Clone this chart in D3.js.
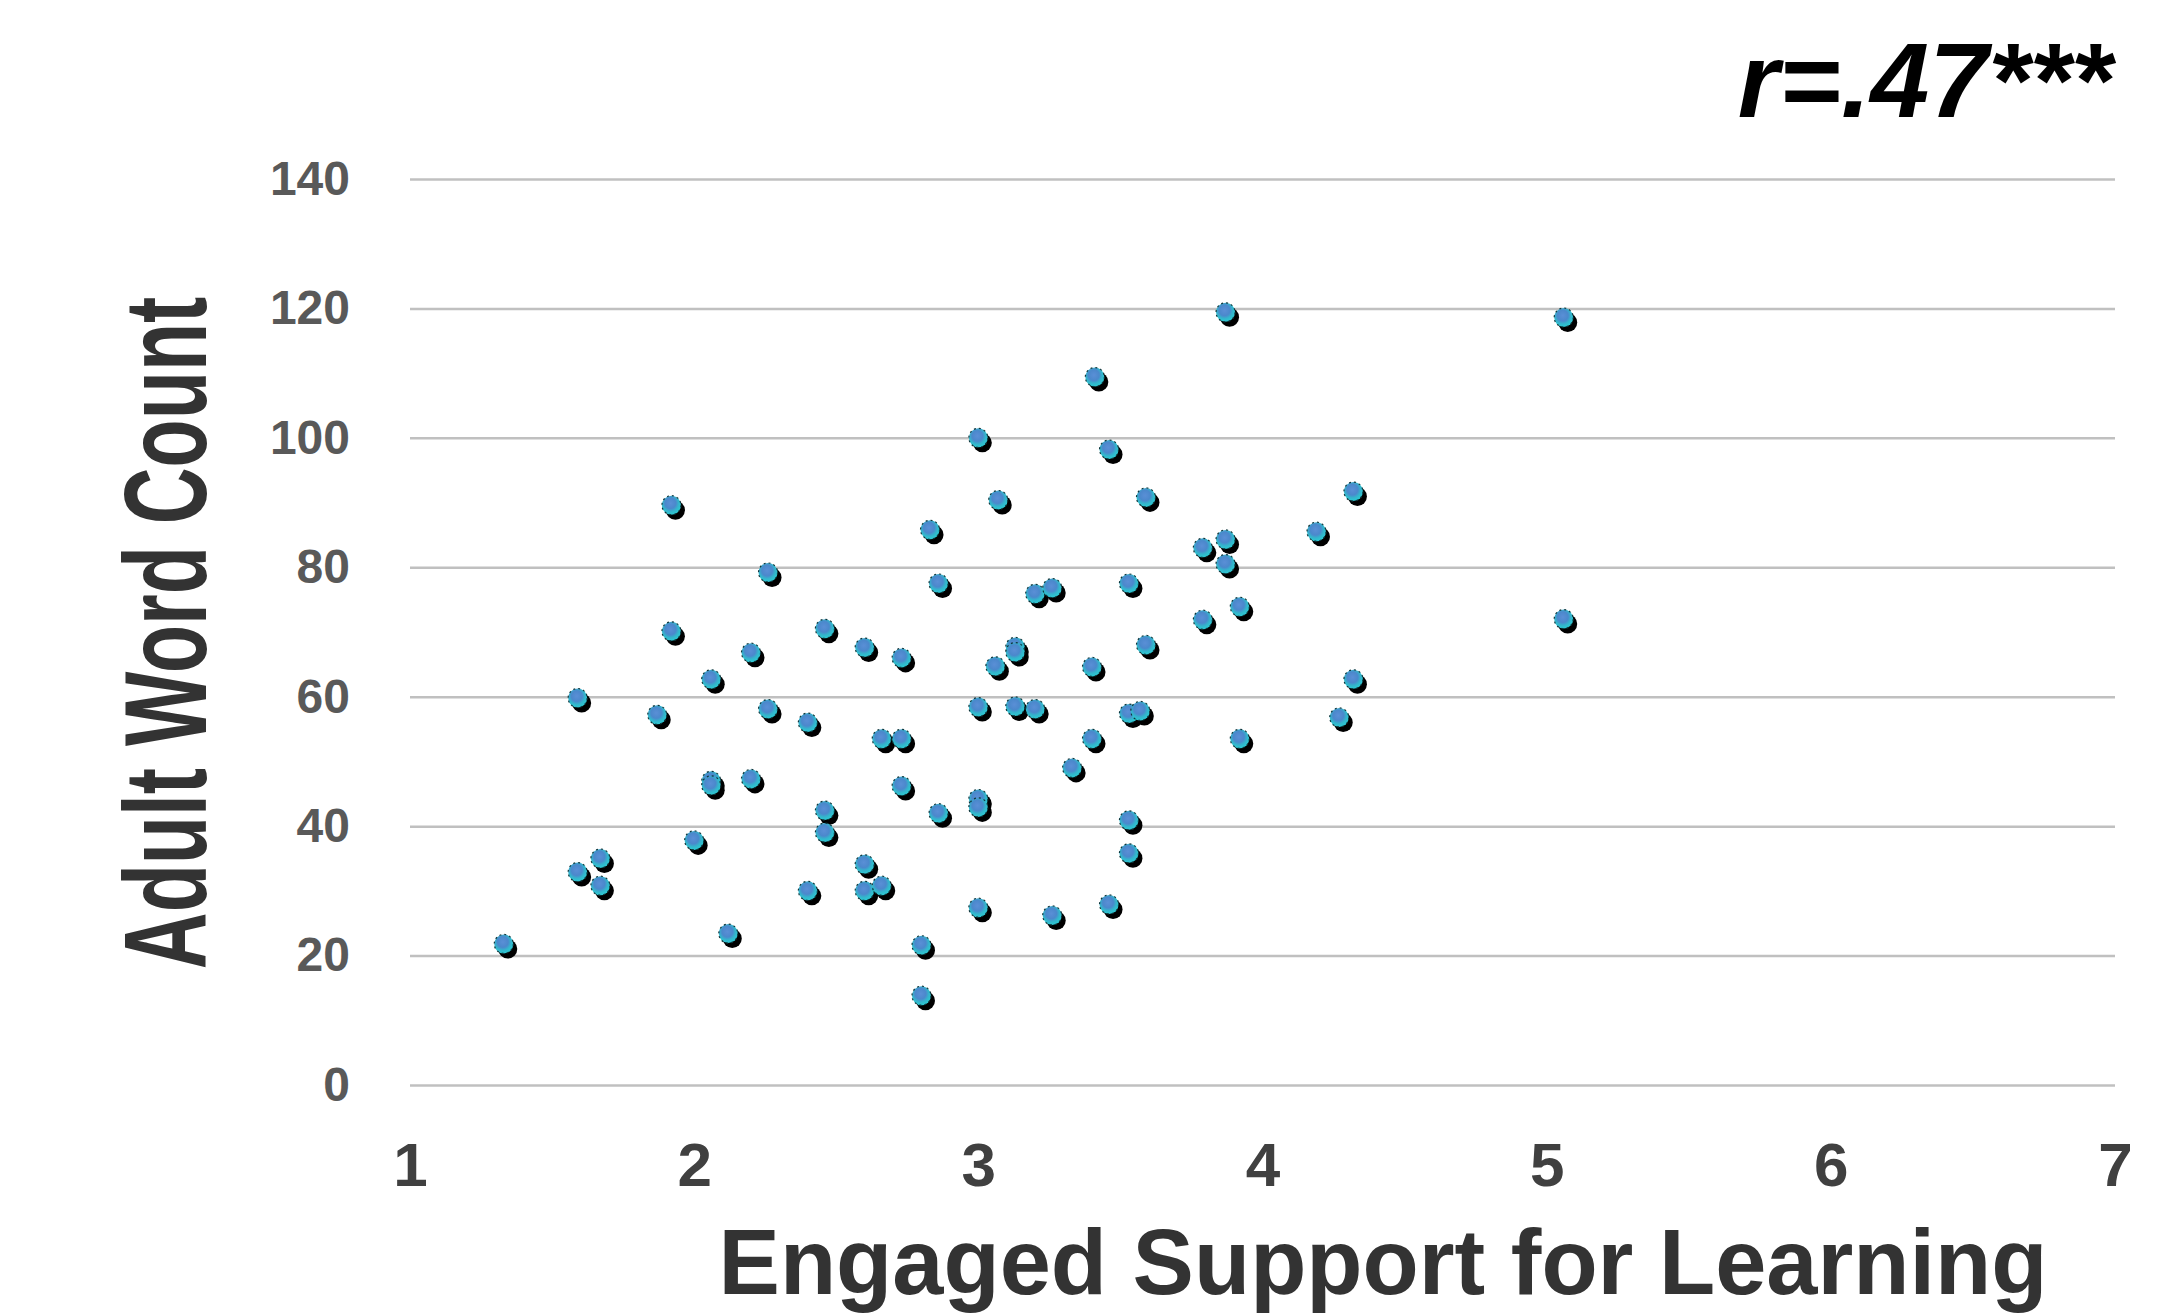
<!DOCTYPE html>
<html>
<head>
<meta charset="utf-8">
<script src="https://cdn.jsdelivr.net/npm/d3@7"></script>
<style>
  html, body { margin: 0; padding: 0; background: #fff; }
  svg { display: block; font-family: "Liberation Sans", Arial, sans-serif; }
</style>
</head>
<body>
<svg id="chart"></svg>
<script>
// scatter values
const engagedSupport = [
  1.33, 1.59, 1.67, 1.67, 1.59, 1.87, 1.92, 1.92, 2.00, 2.06,
  2.06, 2.06, 2.12, 2.20, 2.20, 2.26, 2.26, 2.40, 2.40, 2.46,
  2.46, 2.46, 2.60, 2.60, 2.60, 2.66, 2.66, 2.73, 2.73, 2.73,
  2.80, 2.80, 2.83, 2.86, 2.86, 3.00, 3.00, 3.00, 3.00, 3.00,
  3.06, 3.07, 3.13, 3.13, 3.13, 3.20, 3.20, 3.26, 3.26, 3.33,
  3.41, 3.40, 3.40, 3.46, 3.46, 3.53, 3.53, 3.57, 3.53, 3.53,
  3.59, 3.59, 3.79, 3.79, 3.87, 3.87, 3.87, 3.92, 3.92, 4.19,
  4.27, 4.32, 4.32, 5.06, 5.06
];
const wordCount = [
  21.8, 32.9, 35.0, 30.8, 59.8, 57.2, 89.6, 70.1, 37.8, 47.0,
  46.3, 62.7, 23.4, 66.8, 47.3, 79.2, 58.1, 56.0, 30.0, 70.5,
  42.4, 39.0, 67.6, 34.1, 30.0, 30.8, 53.5, 53.5, 66.0, 46.2,
  21.6, 13.8, 85.8, 77.5, 42.0, 100.0, 58.4, 44.2, 42.9, 27.4,
  64.7, 90.4, 67.7, 66.9, 58.5, 58.1, 75.9, 76.8, 26.2, 49.0,
  109.4, 64.6, 53.5, 98.2, 27.9, 77.5, 57.4, 57.8, 40.9, 35.8,
  90.8, 68.0, 83.0, 71.9, 84.3, 80.5, 119.4, 73.9, 53.5, 85.5,
  56.8, 91.7, 62.7, 118.6, 72.0
];
const xTicks = [1, 2, 3, 4, 5, 6, 7];
const yTicks = [0, 20, 40, 60, 80, 100, 120, 140];
const xTitle = "Engaged Support for Learning";
const yTitle = "Adult Word Count";
const corrLabel = "r=.47***";

const width = 2158, height = 1315;
const margin = { top: 179, right: 43, bottom: 230, left: 410 };
const w = width - margin.left - margin.right;
const h = height - margin.top - margin.bottom;

const svg = d3.select("#chart")
  .attr("width", width)
  .attr("height", height);

const defs = svg.append("defs");
const grad = defs.append("radialGradient")
  .attr("id", "dotFill")
  .attr("cx", "45%").attr("cy", "40%").attr("r", "62%");
grad.append("stop").attr("offset", "0%").attr("stop-color", "#5a8fd6");
grad.append("stop").attr("offset", "45%").attr("stop-color", "#4b88cc");
grad.append("stop").attr("offset", "70%").attr("stop-color", "#33b6cc");
grad.append("stop").attr("offset", "100%").attr("stop-color", "#2ccbd3");

const g = svg.append("g")
  .attr("transform", `translate(${margin.left},${margin.top})`);

const xScale = d3.scaleLinear().domain([1, 7]).range([0, w]);
const yScale = d3.scaleLinear().domain([0, 140]).range([h, 0]);

// y axis + gridlines
const yAxis = d3.axisLeft(yScale)
  .tickValues(yTicks)
  .tickSize(-w)
  .tickPadding(60);

g.append("g").call(yAxis)
  .call(s => s.select(".domain").remove())
  .call(s => s.selectAll(".tick line").attr("stroke", "#c0c0c0").attr("stroke-width", 2.5))
  .call(s => s.selectAll(".tick text")
    .attr("fill", "#595959")
    .style("font-size", "48px")
    .style("font-weight", "bold")
    .style("font-family", "'Liberation Sans', Arial, sans-serif"));

// x axis labels only
const xAxis = d3.axisBottom(xScale)
  .tickValues(xTicks)
  .tickFormat(d3.format("d"))
  .tickSize(0)
  .tickPadding(57);

g.append("g").call(xAxis)
  .attr("transform", `translate(0,${h})`)
  .call(s => s.select(".domain").remove())
  .call(s => s.selectAll(".tick text")
    .attr("fill", "#404040")
    .style("font-size", "62px")
    .style("font-weight", "bold")
    .style("font-family", "'Liberation Sans', Arial, sans-serif"));

const pts = engagedSupport.map((x, i) => ({ x: x, y: wordCount[i] }));

// shadows under the markers
g.append("g").selectAll("circle").data(pts)
  .enter().append("circle")
  .attr("cx", d => xScale(d.x) + 4)
  .attr("cy", d => yScale(d.y) + 5)
  .attr("r", 9.5)
  .attr("fill", "#000");

g.append("g").selectAll("circle").data(pts)
  .enter().append("circle")
  .attr("cx", d => xScale(d.x))
  .attr("cy", d => yScale(d.y))
  .attr("r", 9.5)
  .attr("fill", "url(#dotFill)")
  .attr("stroke", "#10363c")
  .attr("stroke-width", 1.2)
  .attr("stroke-dasharray", "2,3");

// axis titles
svg.append("text")
  .attr("x", 1383)
  .attr("y", 1294)
  .attr("text-anchor", "middle")
  .attr("fill", "#333")
  .style("font-size", "92px")
  .style("font-weight", "bold")
  .text(xTitle);

// y title is drawn tall and narrow, as in the original
svg.append("text")
  .attr("transform", "translate(206,633) rotate(-90) scale(0.985,1.45)")
  .attr("text-anchor", "middle")
  .attr("fill", "#333")
  .style("font-size", "80px")
  .style("font-weight", "bold")
  .text(yTitle);

svg.append("text")
  .attr("x", 2112)
  .attr("y", 117)
  .attr("text-anchor", "end")
  .attr("fill", "#000")
  .style("font-size", "106px")
  .style("font-weight", "bold")
  .style("font-style", "italic")
  .text(corrLabel);
</script>
</body>
</html>
